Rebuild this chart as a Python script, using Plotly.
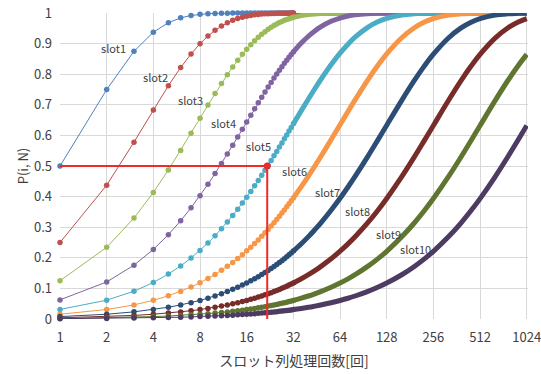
import math
import plotly.graph_objects as go

# ---- data ----
N_dense = list(range(1, 33))
N_sparse = [32, 36, 40, 44, 48, 56, 64, 72, 80, 96, 112, 128, 160, 192, 224, 256,
            320, 384, 448, 512, 640, 768, 896, 1024]

slot_names = ["slot1", "slot2", "slot3", "slot4", "slot5",
              "slot6", "slot7", "slot8", "slot9", "slot10"]

slot1_dense = [0.5, 0.75, 0.875, 0.9375, 0.9688, 0.9844, 0.9922, 0.9961, 0.998, 0.999,
               0.9995, 0.9998, 0.9999, 1, 1, 1, 1, 1, 1, 1, 1, 1, 1, 1, 1, 1, 1, 1, 1, 1, 1, 1]
slot2_dense = [0.25, 0.4375, 0.5781, 0.6836, 0.7627, 0.822, 0.8665, 0.8999, 0.9249, 0.9437,
               0.9578, 0.9683, 0.9762, 0.9822, 0.9866, 0.99, 0.9925, 0.9944, 0.9958, 0.9968,
               0.9976, 0.9982, 0.9987, 0.999, 0.9992, 0.9994, 0.9996, 0.9997, 0.9998, 0.9998,
               0.9999, 0.9999]
slot3_dense = [0.125, 0.2344, 0.3301, 0.4138, 0.4871, 0.5512, 0.6073, 0.6564, 0.6993, 0.7369,
               0.7698, 0.7986, 0.8238, 0.8458, 0.8651, 0.8819, 0.8967, 0.9096, 0.9209, 0.9308,
               0.9394, 0.947, 0.9536, 0.9594, 0.9645, 0.9689, 0.9728, 0.9762, 0.9792, 0.9818,
               0.9841, 0.9861]
slot4_dense = [0.0625, 0.1211, 0.176, 0.2275, 0.2758, 0.3211, 0.3635, 0.4033, 0.4406, 0.4755,
               0.5083, 0.539, 0.5679, 0.5949, 0.6202, 0.6439, 0.6662, 0.687, 0.7066, 0.7249,
               0.7421, 0.7582, 0.7734, 0.7875, 0.8008, 0.8133, 0.8249, 0.8359, 0.8461, 0.8557,
               0.8648, 0.8732]
slot5_dense = [0.0313, 0.0615, 0.0909, 0.1193, 0.1468, 0.1734, 0.1993, 0.2243, 0.2485, 0.272,
               0.2948, 0.3168, 0.3382, 0.3588, 0.3789, 0.3983, 0.4171, 0.4353, 0.453, 0.47,
               0.4866, 0.5027, 0.5182, 0.5333, 0.5478, 0.562, 0.5757, 0.5889, 0.6018, 0.6142,
               0.6263, 0.6379]
slot6_dense = [0.0156, 0.031, 0.0461, 0.0611, 0.0757, 0.0902, 0.1044, 0.1184, 0.1321, 0.1457,
               0.1591, 0.1722, 0.1851, 0.1979, 0.2104, 0.2227, 0.2349, 0.2468, 0.2586, 0.2702,
               0.2816, 0.2928, 0.3039, 0.3147, 0.3254, 0.336, 0.3464, 0.3566, 0.3666, 0.3765,
               0.3863, 0.3959]
slot7_dense = [0.0078, 0.0156, 0.0233, 0.0309, 0.0385, 0.046, 0.0534, 0.0608, 0.0682, 0.0754,
               0.0827, 0.0898, 0.0969, 0.104, 0.111, 0.1179, 0.1248, 0.1317, 0.1384, 0.1452,
               0.1519, 0.1585, 0.1651, 0.1716, 0.1781, 0.1845, 0.1908, 0.1972, 0.2034, 0.2097,
               0.2158, 0.222]
slot8_dense = [0.0039, 0.0078, 0.0117, 0.0155, 0.0194, 0.0232, 0.027, 0.0308, 0.0346, 0.0384,
               0.0421, 0.0459, 0.0496, 0.0533, 0.057, 0.0607, 0.0644, 0.068, 0.0717, 0.0753,
               0.0789, 0.0825, 0.0861, 0.0897, 0.0932, 0.0968, 0.1003, 0.1038, 0.1073, 0.1108,
               0.1143, 0.1177]
slot9_dense = [0.002, 0.0039, 0.0058, 0.0078, 0.0097, 0.0117, 0.0136, 0.0155, 0.0174, 0.0194,
               0.0213, 0.0232, 0.0251, 0.027, 0.0289, 0.0308, 0.0327, 0.0346, 0.0365, 0.0383,
               0.0402, 0.0421, 0.044, 0.0458, 0.0477, 0.0496, 0.0514, 0.0533, 0.0551, 0.057,
               0.0588, 0.0606]
slot10_dense = [0.001, 0.002, 0.0029, 0.0039, 0.0049, 0.0058, 0.0068, 0.0078, 0.0088, 0.0097,
                0.0107, 0.0117, 0.0126, 0.0136, 0.0145, 0.0155, 0.0165, 0.0174, 0.0184, 0.0194,
                0.0203, 0.0213, 0.0222, 0.0232, 0.0241, 0.0251, 0.026, 0.027, 0.0279, 0.0289,
                0.0298, 0.0308]

slot1_sparse = [1] * 24
slot2_sparse = [0.9999] + [1] * 23
slot3_sparse = [0.9861, 0.9918, 0.9952, 0.9972, 0.9984, 0.9994, 0.9998, 0.9999] + [1] * 16
slot4_sparse = [0.8732, 0.9021, 0.9243, 0.9416, 0.9549, 0.9731, 0.9839, 0.9904, 0.9943,
                0.998, 0.9993, 0.9997] + [1] * 12
slot5_sparse = [0.6379, 0.6811, 0.7192, 0.7526, 0.7821, 0.831, 0.8689, 0.8983, 0.9211,
                0.9525, 0.9714, 0.9828, 0.9938, 0.9977, 0.9992, 0.9997] + [1] * 8
slot6_sparse = [0.3959, 0.4327, 0.4674, 0.4999, 0.5304, 0.586, 0.635, 0.6782, 0.7163,
                0.7795, 0.8286, 0.8668, 0.9195, 0.9514, 0.9706, 0.9823, 0.9935, 0.9976,
                0.9991, 0.9997, 1, 1, 1, 1]
slot7_sparse = [0.222, 0.246, 0.2693, 0.2919, 0.3137, 0.3555, 0.3947, 0.4315, 0.466, 0.529,
                0.5846, 0.6336, 0.7149, 0.7782, 0.8274, 0.8657, 0.9187, 0.9508, 0.9702,
                0.982, 0.9934, 0.9976, 0.9991, 0.9997]
slot8_sparse = [0.1177, 0.1314, 0.1449, 0.1582, 0.1713, 0.1968, 0.2216, 0.2456, 0.2688,
                0.3132, 0.3549, 0.3941, 0.4654, 0.5283, 0.5839, 0.6328, 0.7142, 0.7775,
                0.8268, 0.8652, 0.9183, 0.9505, 0.97, 0.9818]
slot9_sparse = [0.0606, 0.068, 0.0752, 0.0824, 0.0896, 0.1037, 0.1176, 0.1313, 0.1448,
                0.1711, 0.1966, 0.2214, 0.2686, 0.313, 0.3546, 0.3938, 0.4651, 0.528,
                0.5835, 0.6325, 0.7138, 0.7772, 0.8265, 0.8649]
slot10_sparse = [0.0308, 0.0346, 0.0383, 0.0421, 0.0458, 0.0532, 0.0606, 0.0679, 0.0752,
                 0.0895, 0.1037, 0.1176, 0.1447, 0.171, 0.1966, 0.2213, 0.2685, 0.3128,
                 0.3545, 0.3936, 0.4649, 0.5278, 0.5833, 0.6323]

dense = [slot1_dense, slot2_dense, slot3_dense, slot4_dense, slot5_dense,
         slot6_dense, slot7_dense, slot8_dense, slot9_dense, slot10_dense]
sparse = [slot1_sparse, slot2_sparse, slot3_sparse, slot4_sparse, slot5_sparse,
          slot6_sparse, slot7_sparse, slot8_sparse, slot9_sparse, slot10_sparse]

# label anchor positions (N, P)
label_x = [2.2, 4.16, 6.9, 11.26, 19.2, 32.3, 52.8, 82.4, 130.5, 195]
label_y = [0.887, 0.792, 0.717, 0.642, 0.566, 0.485, 0.416, 0.354, 0.279, 0.230]

# red guide line (N, P)
guide_x = [1, 21.7, 21.7]
guide_y = [0.5, 0.5, 0]

x_ticks = [1, 2, 4, 8, 16, 32, 64, 128, 256, 512, 1024]
y_ticks = [0, 0.1, 0.2, 0.3, 0.4, 0.5, 0.6, 0.7, 0.8, 0.9, 1]

colors = ["#4F81BD", "#C0504D", "#9BBB59", "#8064A2", "#4BACC6",
          "#F79646", "#2C4D75", "#772C2A", "#5F7530", "#4D3B62"]

FONT = "Noto Sans CJK JP"
fig = go.Figure()

for i in range(10):
    fig.add_trace(go.Scatter(
        x=N_sparse, y=sparse[i], mode="lines", line=dict(color=colors[i], width=5, shape="spline"),
        cliponaxis=False, showlegend=False, hoverinfo="skip"))
    fig.add_trace(go.Scatter(
        x=N_dense, y=dense[i], mode="lines+markers", name=slot_names[i],
        line=dict(color=colors[i], width=1),
        marker=dict(color=colors[i], size=5.5),
        cliponaxis=False, showlegend=False))

fig.add_trace(go.Scatter(x=guide_x, y=guide_y, mode="lines",
                         line=dict(color="#EE2A2A", width=2), cliponaxis=False,
                         showlegend=False))
fig.add_trace(go.Scatter(x=[guide_x[1]], y=[guide_y[1]], mode="markers",
                         marker=dict(color="#EE2A2A", size=7), cliponaxis=False,
                         showlegend=False))

for name, lx, ly in zip(slot_names, label_x, label_y):
    fig.add_annotation(x=math.log10(lx), y=ly, xref="x", yref="y", text=name,
                       showarrow=False, font=dict(family=FONT, size=11, color="#404040"))

xmax = math.log10(1024) + 0.008
fig.update_layout(
    width=541, height=374,
    margin=dict(l=60, r=13, t=13, b=55, autoexpand=False),
    paper_bgcolor="white", plot_bgcolor="white",
    font=dict(family=FONT, color="#404040", size=13),
    xaxis=dict(type="log", range=[0, xmax], tickmode="array", tickvals=x_ticks,
               ticktext=[str(v) for v in x_ticks], showgrid=True, gridcolor="#D9D9D9",
               gridwidth=1, zeroline=False, showline=False, ticks="", automargin=False,
               ticklabelstandoff=9, ticklabeloverflow="allow",
               tickfont=dict(size=13, color="#404040"),
               title=dict(text="スロット列処理回数[回]", font=dict(size=14, color="#404040"),
                          standoff=11)),
    yaxis=dict(range=[0, 1.0003], tickvals=y_ticks, showgrid=True, gridcolor="#D9D9D9",
               gridwidth=1, zeroline=False, showline=False, ticks="", automargin=False,
               ticklabelstandoff=7,
               tickfont=dict(size=13, color="#404040"),
               title=dict(text="P(i, N)", font=dict(size=13, color="#404040"), standoff=2)),
)

fig.write_html("out.html")
